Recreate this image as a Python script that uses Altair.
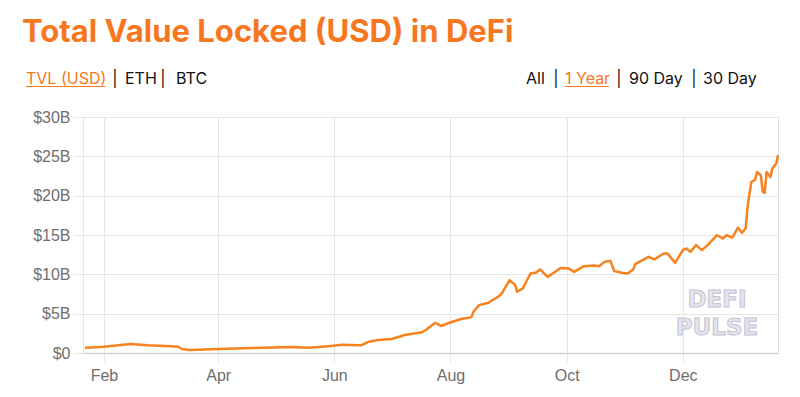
import altair as alt
import pandas as pd

dates = [
    "2020-01-22", "2020-02-01", "2020-02-15", "2020-02-24", "2020-03-07", "2020-03-11",
    "2020-03-13", "2020-03-17", "2020-04-01", "2020-04-19", "2020-05-09", "2020-05-19",
    "2020-05-30", "2020-06-05", "2020-06-15", "2020-06-19", "2020-06-24", "2020-07-01",
    "2020-07-08", "2020-07-17", "2020-07-19", "2020-07-24", "2020-07-27", "2020-08-02",
    "2020-08-07", "2020-08-12", "2020-08-13", "2020-08-16", "2020-08-21", "2020-08-23",
    "2020-08-26", "2020-08-28", "2020-09-01", "2020-09-04", "2020-09-05", "2020-09-08",
    "2020-09-12", "2020-09-15", "2020-09-17", "2020-09-21", "2020-09-25", "2020-09-28",
    "2020-10-02", "2020-10-05", "2020-10-10", "2020-10-15", "2020-10-18", "2020-10-21",
    "2020-10-24", "2020-10-26", "2020-10-30", "2020-11-02", "2020-11-05", "2020-11-06",
    "2020-11-13", "2020-11-16", "2020-11-21", "2020-11-23", "2020-11-27", "2020-12-01",
    "2020-12-03", "2020-12-05", "2020-12-08", "2020-12-11", "2020-12-14", "2020-12-19",
    "2020-12-22", "2020-12-24", "2020-12-27", "2020-12-30", "2021-01-01", "2021-01-03",
    "2021-01-04", "2021-01-06", "2021-01-08", "2021-01-09", "2021-01-11", "2021-01-12",
    "2021-01-13", "2021-01-14", "2021-01-16", "2021-01-17", "2021-01-19", "2021-01-20",
]
tvl_billions = [
    0.67, 0.80, 1.14, 0.98, 0.85, 0.80,
    0.51, 0.38, 0.51, 0.63, 0.76, 0.67,
    0.89, 1.05, 0.98, 1.43, 1.65, 1.78,
    2.28, 2.63, 2.92, 3.85, 3.43, 3.97,
    4.35, 4.53, 5.24, 6.09, 6.38, 6.73,
    7.14, 7.58, 9.26, 8.63, 7.78, 8.21,
    10.11, 10.24, 10.62, 9.68, 10.32, 10.82,
    10.75, 10.32, 11.04, 11.13, 11.04, 11.59,
    11.71, 10.41, 10.19, 10.11, 10.62, 11.29,
    12.22, 11.89, 12.65, 12.65, 11.46, 13.07,
    13.29, 12.86, 13.71, 13.07, 13.71, 14.97,
    14.56, 14.97, 14.68, 15.95, 15.27, 15.82,
    18.57, 21.74, 22.04, 23.01, 22.59, 20.47,
    20.34, 23.01, 22.37, 23.44, 24.07, 25.13,
]
y_ticks = [0, 5, 10, 15, 20, 25, 30]
x_tick_months = [(2020, 2), (2020, 4), (2020, 6), (2020, 8), (2020, 10), (2020, 12)]

title_text = "Total Value Locked (USD) in DeFi"
left_links = ["TVL (USD)", "ETH", "BTC"]
right_links = ["All", "1 Year", "90 Day", "30 Day"]
watermark = ["DEFI", "PULSE"]

ORANGE = "#F7771E"
LINE = "#F7821F"
GRID = "#e6e6e6"

df = pd.DataFrame({"date": dates, "tvl": tvl_billions})
one = pd.DataFrame({"k": [0]})

x_values = [alt.DateTime(year=y, month=m, date=1, utc=True) for y, m in x_tick_months]

line = alt.Chart(df).mark_line(color=LINE, strokeWidth=2.5, strokeJoin="round").encode(
    x=alt.X(
        "date:T",
        scale=alt.Scale(
            type="utc",
            domain=[alt.DateTime(year=2020, month=1, date=21, utc=True),
                    alt.DateTime(year=2021, month=1, date=20, utc=True)],
        ),
        axis=alt.Axis(
            values=x_values,
            labelExpr="utcFormat(datum.value, '%b')",
            title=None,
            grid=True,
            gridColor=GRID,
            tickColor=GRID,
            tickSize=9,
            labelPadding=5,
            domainColor="#d4d4d4",
            domainWidth=1.5,
            labelColor="#6e6e6e",
            labelFont="Liberation Sans",
            labelFontSize=16,
        ),
    ),
    y=alt.Y(
        "tvl:Q",
        scale=alt.Scale(domain=[0, 30], nice=False),
        axis=alt.Axis(
            values=y_ticks,
            labelExpr="datum.value == 0 ? '$0' : '$' + datum.value + 'B'",
            title=None,
            grid=True,
            gridColor=GRID,
            tickColor=GRID,
            tickSize=10,
            labelPadding=3,
            domainColor=GRID,
            labelColor="#6e6e6e",
            labelFont="Liberation Sans",
            labelFontSize=16,
        ),
    ),
)

def txt(s, x, y, color="#111111", size=16, font="Inter", weight=400, align="left", **kw):
    return alt.Chart(one).mark_text(
        text=s, color=color, fontSize=size, font=font, fontWeight=weight,
        align=align, baseline="alphabetic", **kw,
    ).encode(x=alt.value(x), y=alt.value(y))

def uline(x1, x2, y):
    return alt.Chart(one).mark_rule(color=ORANGE, strokeWidth=1).encode(
        x=alt.value(x1), x2=alt.value(x2), y=alt.value(y)
    )

wm = [
    txt(watermark[0], 634, 190, color="#e4e4ee", size=23, font="DejaVu Sans", weight=700,
        align="center", stroke="#c4c4d2", strokeWidth=1),
    txt(watermark[1], 634, 218, color="#e4e4ee", size=23, font="DejaVu Sans", weight=700,
        align="center", stroke="#c4c4d2", strokeWidth=1),
]

header = [
    txt(title_text, -61, -75, color=ORANGE, size=31, weight=700),
    txt(left_links[0], -57, -33, color=ORANGE),
    uline(-57, 22, -30.5),
    txt("|", 32, -33, align="center"),
    txt(left_links[1], 42, -33),
    txt("|", 80, -33, align="center"),
    txt(left_links[2], 93, -33),
    txt(right_links[0], 443, -33),
    txt("|", 473, -33, align="center"),
    txt(right_links[1], 482, -33, color=ORANGE),
    uline(482, 526, -30.5),
    txt("|", 536, -33, align="center"),
    txt(right_links[2], 546, -33),
    txt("|", 611, -33, align="center"),
    txt(right_links[3], 620, -33),
]

chart = alt.layer(*wm, line, *header).properties(
    width=695,
    height=236,
    autosize=alt.AutoSizeParams(type="none"),
    padding={"left": 75, "top": 109, "right": 14, "bottom": 36},
).configure_view(strokeWidth=0).configure(background="white")

chart.save("out.html", embed_options={"renderer": "svg", "actions": False})
